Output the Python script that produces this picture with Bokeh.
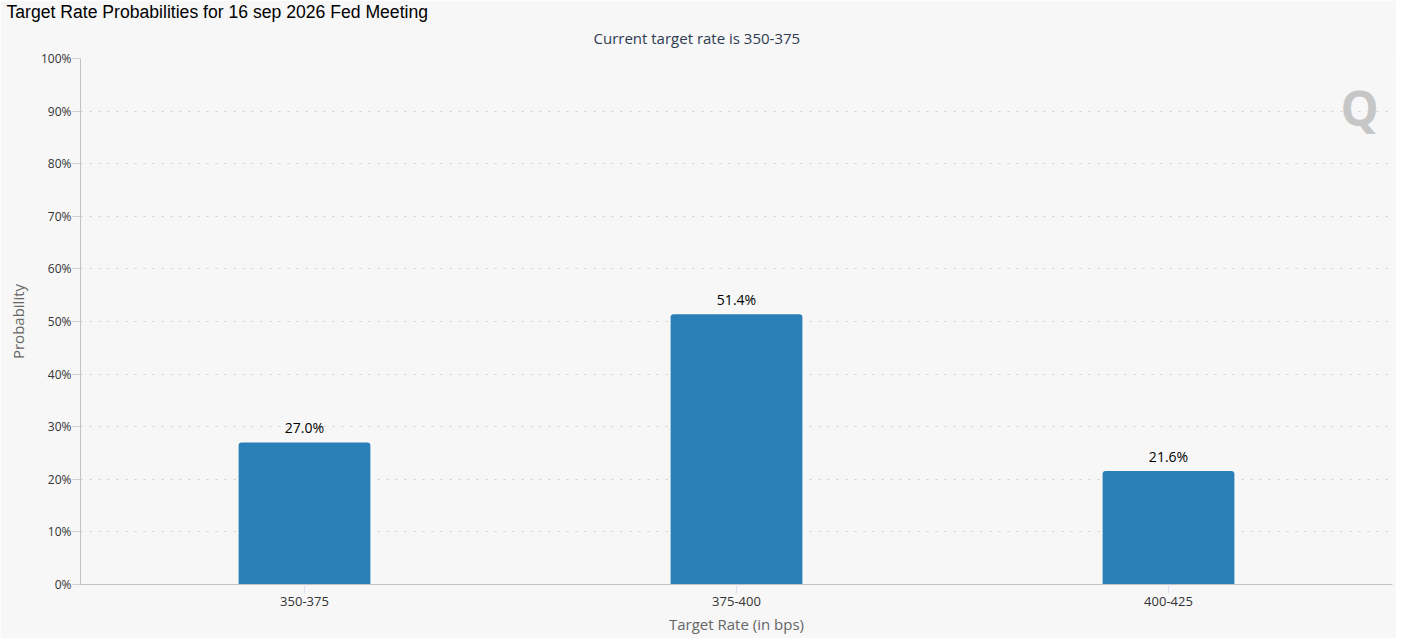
from bokeh.plotting import figure
from bokeh.models import (FactorRange, Range1d, FixedTicker, PrintfTickFormatter,
                          Title, Label, ColumnDataSource)
from bokeh.core.properties import value
from bokeh.embed import file_html
from bokeh.resources import INLINE

# ---- data ----
categories = ["350-375", "375-400", "400-425"]
probabilities = [27.0, 51.4, 21.6]
prob_labels = ["27.0%", "51.4%", "21.6%"]
y_ticks = [0, 10, 20, 30, 40, 50, 60, 70, 80, 90, 100]
title_text = "Target Rate Probabilities for 16 sep 2026 Fed Meeting"
subtitle_text = "Current target rate is 350-375"
x_title = "Target Rate (in bps)"
y_title = "Probability"

FONT = "Open Sans"
BG = "#f7f7f7"

src = ColumnDataSource(dict(cat=categories, val=probabilities, lab=prob_labels))

p = figure(
    width=1396, height=638,
    x_range=FactorRange(factors=categories, range_padding=0.0185,
                        range_padding_units="absolute"),
    y_range=Range1d(0, 100),
    output_backend="svg", toolbar_location=None, tools="",
    background_fill_color=BG, border_fill_color=BG,
    min_border_left=80, min_border_right=4, min_border_top=58,
    min_border_bottom=54, outline_line_color=None,
)

# titles
p.title = Title(text=title_text, align="left", text_font="Liberation Sans",
                text_font_size="17.6px", text_font_style="normal",
                text_color="#000000", offset=-74, standoff=-12)
p.add_layout(Title(text=subtitle_text, align="left", text_font=FONT,
                   text_font_size="15px", text_font_style="normal",
                   text_color="#2f3b52", standoff=21, offset=513), "above")

# bars
p.vbar(x="cat", top="val", width=0.305, source=src, color="#2a7fb7",
       line_color=None, border_radius=(3, 3, 0, 0))

# data labels
p.text(x="cat", y="val", text="lab", source=src, text_align="center",
       text_baseline="bottom", y_offset=-5, text_font=value(FONT),
       text_font_size="14px", text_color="#000000")

# y axis
ya = p.yaxis[0]
ya.ticker = FixedTicker(ticks=y_ticks)
ya.formatter = PrintfTickFormatter(format="%d%%")
ya.axis_label = y_title
ya.axis_label_text_font = FONT
ya.axis_label_text_font_size = "15px"
ya.axis_label_text_font_style = "normal"
ya.axis_label_text_color = "#666666"
ya.axis_label_standoff = 10
ya.major_label_text_font = FONT
ya.major_label_text_font_size = "12px"
ya.major_label_text_color = "#333333"
ya.major_label_standoff = 1
ya.major_tick_out = 8
ya.major_tick_in = 0
ya.major_tick_line_color = "#d0d0d0"
ya.minor_tick_line_color = None
ya.axis_line_color = "#c4c4c4"

# x axis
xa = p.xaxis[0]
xa.axis_label = x_title
xa.axis_label_text_font = FONT
xa.axis_label_text_font_size = "15px"
xa.axis_label_text_font_style = "normal"
xa.axis_label_text_color = "#666666"
xa.axis_label_standoff = 5
xa.major_label_text_font = FONT
xa.major_label_text_font_size = "13px"
xa.major_label_text_color = "#333333"
xa.major_label_standoff = 3
xa.major_tick_out = 9
xa.major_tick_in = 0
xa.major_tick_line_color = "#dde3ee"
xa.axis_line_color = "#c0c0c0"

# grid
p.xgrid.grid_line_color = None
p.ygrid.grid_line_color = "#cfcfcf"
p.ygrid.grid_line_dash = "2 7"
p.ygrid.grid_line_width = 1

# watermark logo
p.add_layout(Label(x=1260, y=445, x_units="screen", y_units="screen",
                   text="Q", text_font=FONT, text_font_size="48px",
                   text_font_style="bold", text_color="#c6c6c6"))

open("out.html", "w").write(file_html(p, INLINE))
